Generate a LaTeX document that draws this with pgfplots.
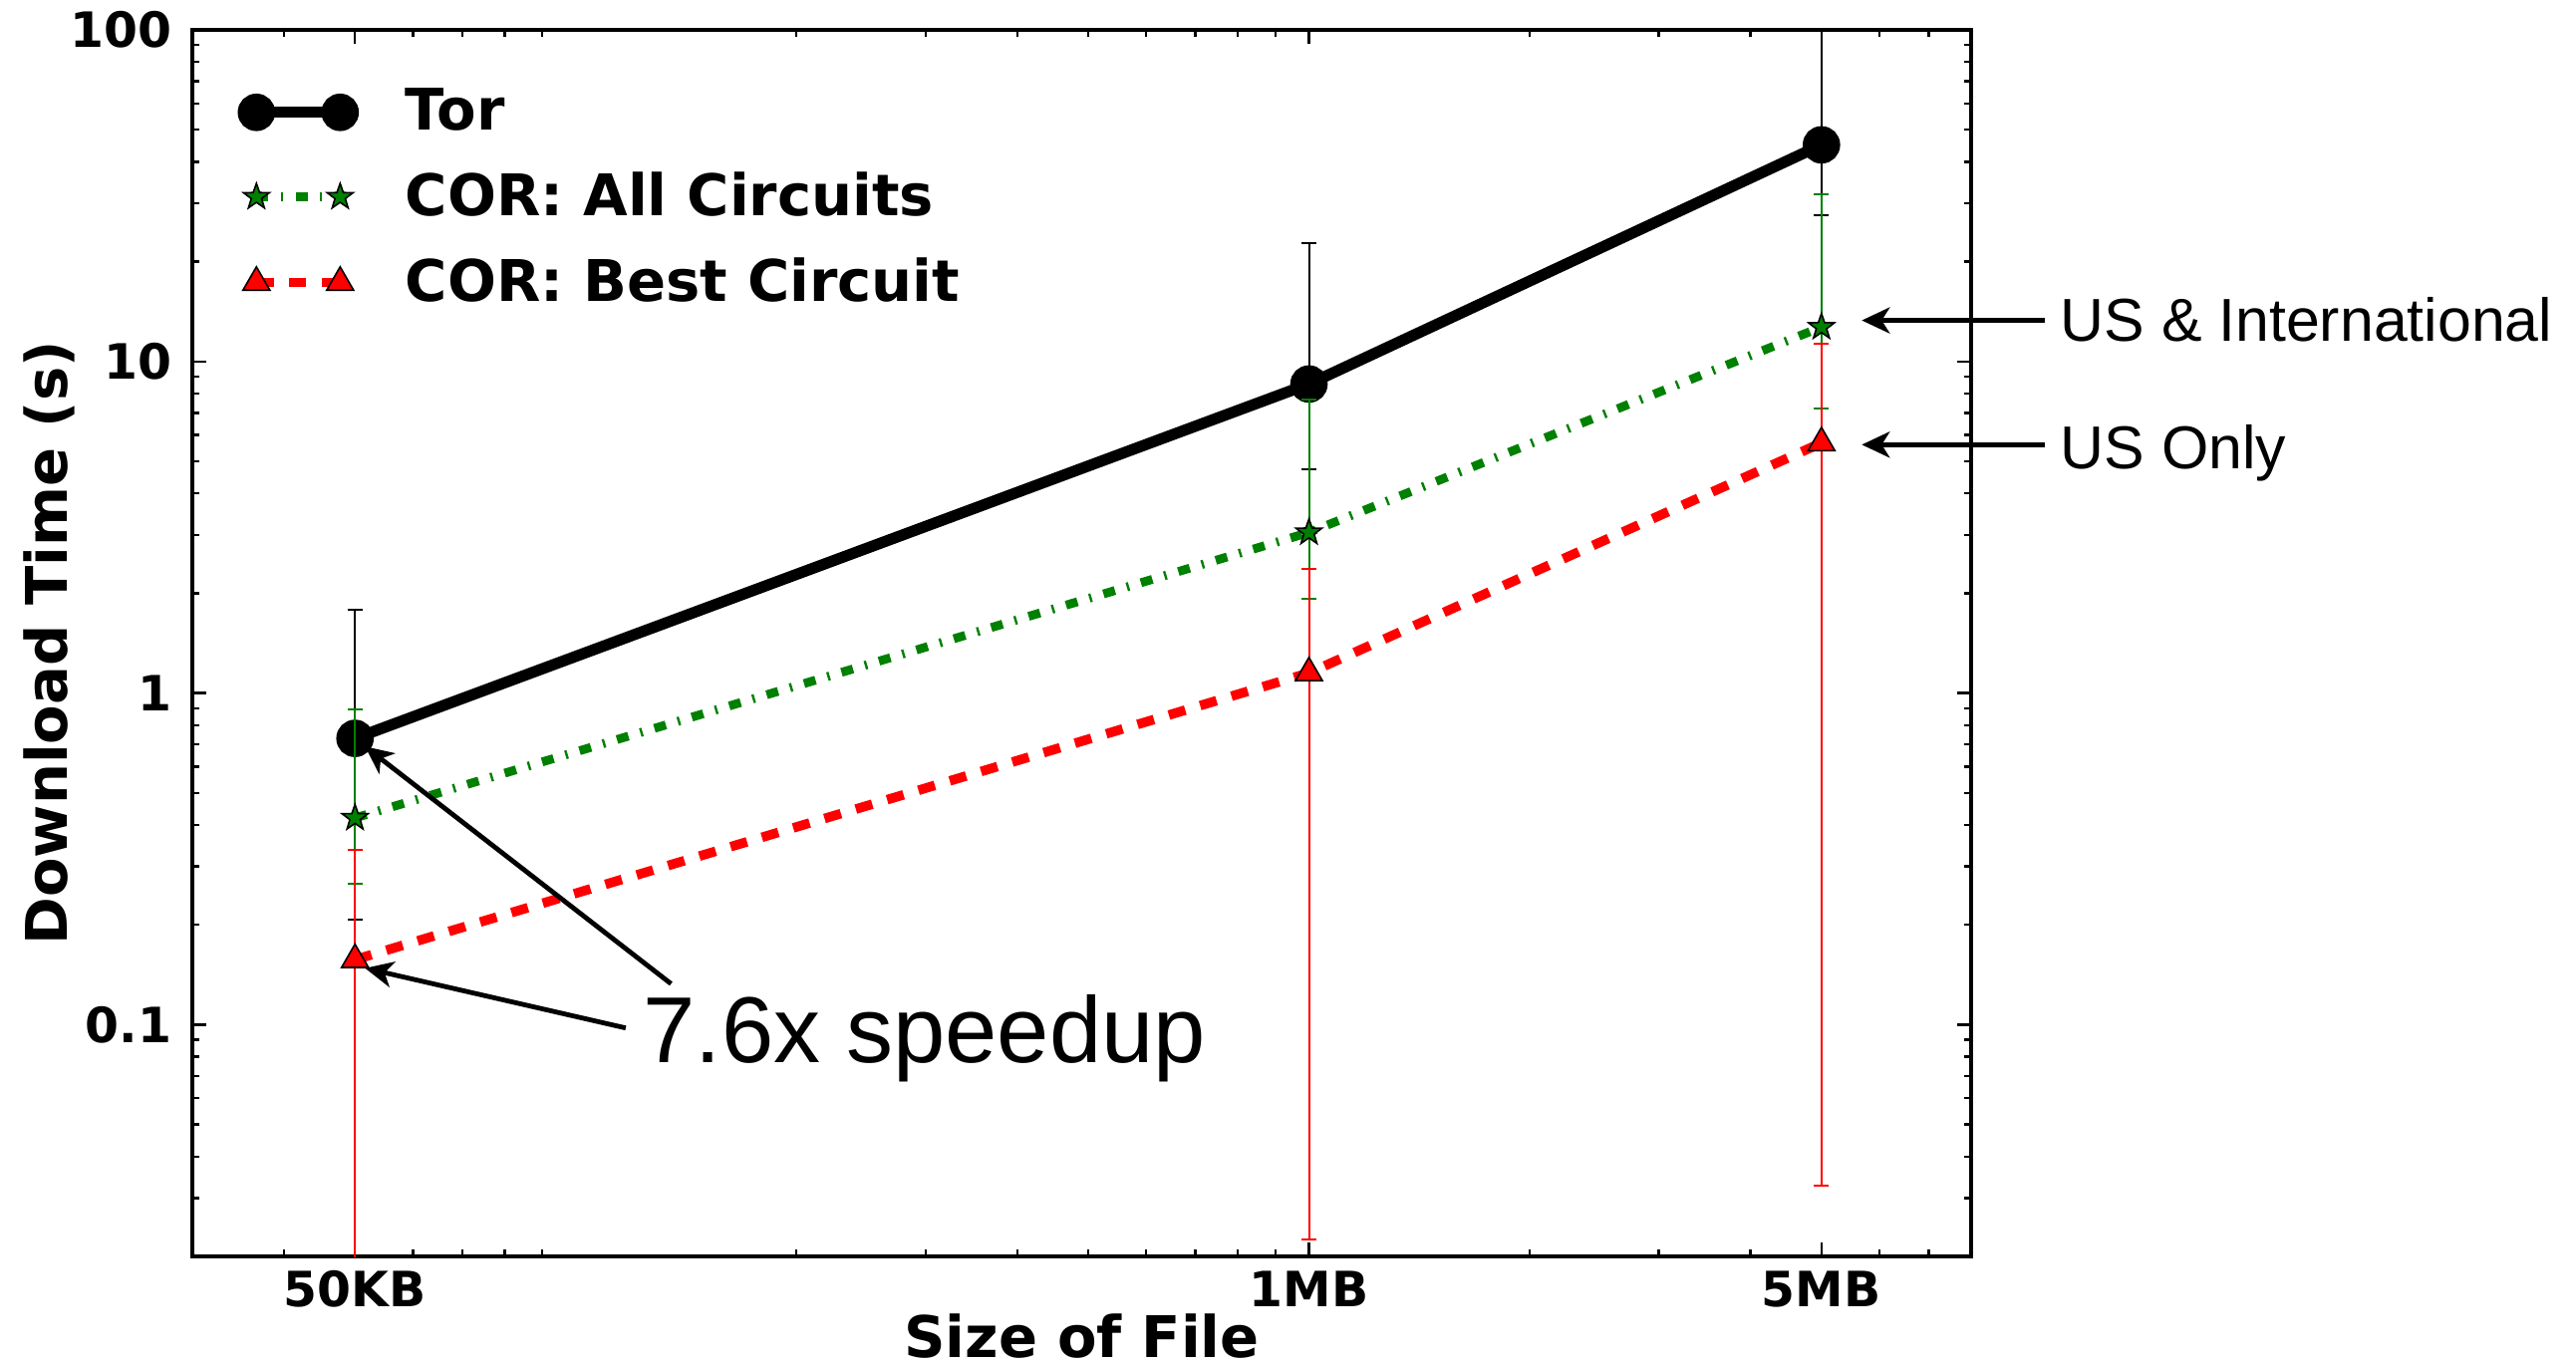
\documentclass[border=0pt]{standalone}
\usepackage{fontspec}
\setmainfont{DejaVu Sans}
\newfontfamily\annfont{Liberation Sans}
\usepackage{pgfplots}
\pgfplotsset{compat=1.18}
\usetikzlibrary{arrows.meta}
\definecolor{mplgreen}{RGB}{0,128,0}
\definecolor{mplred}{RGB}{255,0,0}
\pgfdeclareplotmark{fstar}{%
  \pgfpathmoveto{\pgfpointpolar{90}{\pgfplotmarksize}}%
  \pgfpathlineto{\pgfpointpolar{126}{0.4*\pgfplotmarksize}}%
  \pgfpathlineto{\pgfpointpolar{162}{\pgfplotmarksize}}%
  \pgfpathlineto{\pgfpointpolar{198}{0.4*\pgfplotmarksize}}%
  \pgfpathlineto{\pgfpointpolar{234}{\pgfplotmarksize}}%
  \pgfpathlineto{\pgfpointpolar{270}{0.4*\pgfplotmarksize}}%
  \pgfpathlineto{\pgfpointpolar{306}{\pgfplotmarksize}}%
  \pgfpathlineto{\pgfpointpolar{342}{0.4*\pgfplotmarksize}}%
  \pgfpathlineto{\pgfpointpolar{18}{\pgfplotmarksize}}%
  \pgfpathlineto{\pgfpointpolar{54}{0.4*\pgfplotmarksize}}%
  \pgfpathclose
  \pgfusepathqfillstroke
}
\begin{document}
\begin{tikzpicture}
\useasboundingbox (-48.25pt,-27.5pt) rectangle (598pt,315.25pt);
\begin{axis}[
  at={(0,0)}, anchor=south west,
  width=446.25pt, height=307.75pt, scale only axis,
  xmode=log, ymode=log,
  xmin=30, xmax=8000, ymin=0.02, ymax=100,
  xtick={50,1000,5000}, xticklabels={50KB,1MB,5MB},
  minor xtick={40,60,70,80,90,200,300,400,500,600,700,800,900,2000,3000,4000,6000,7000},
  ytick={0.1,1,10,100}, yticklabels={0.1,1,10,100},
  minor ytick={0.02,0.03,0.04,0.05,0.06,0.07,0.08,0.09,0.2,0.3,0.4,0.5,0.6,0.7,0.8,0.9,2,3,4,5,6,7,8,9,20,30,40,50,60,70,80,90},
  major tick length=3.5pt, minor tick length=1.8pt,
  tick style={black, line width=0.6pt},
  axis line style={line width=0.8pt},
  /pgf/number format/assume math mode=true,
  xticklabel style={font=\bfseries\fontsize{12.2}{14}\selectfont, anchor=center, yshift=-8.3pt},
  yticklabel style={font=\bfseries\fontsize{12.2}{14}\selectfont, anchor=east, inner sep=0pt, xshift=-5pt},
  xlabel={Size of File},
  ylabel={Download Time (s)},
  xlabel style={font=\bfseries\fontsize{14.4}{17}\selectfont, at={(axis description cs:0.5,0)}, anchor=center, inner sep=0pt, yshift=-20pt},
  ylabel style={font=\bfseries\fontsize{14.4}{17}\selectfont, at={(axis description cs:-0.0807,0.5)}, anchor=center, inner sep=0pt},
  clip mode=individual,
  legend style={at={(axis description cs:0,1)}, anchor=north west, xshift=12.5pt, yshift=-12.5pt,
    draw=none, fill=none, font=\bfseries\fontsize{14.4}{17}\selectfont, row sep=5pt, inner sep=0pt},
  legend cell align=left,
  legend image code/.code={\draw[mark repeat=1,mark phase=1,#1] plot coordinates {(0pt,0pt) (21pt,0pt)}; \path (34pt,0pt);},
]
\addplot[black, line width=2.8pt, mark=*, mark size=3.3pt, mark options={solid, fill=black},
  error bars/.cd, y dir=both, y explicit,
  error bar style={line width=0.5pt, solid, black},
  error mark options={rotate=90, mark size=1.9pt, line width=0.5pt, solid, black}]
  coordinates {
  (50,0.73) += (0,1.05) -= (0,0.523)
  (1000,8.55) += (0,14.25) -= (0,3.82)
  (5000,45) += (0,105) -= (0,17.4)
  };
\addlegendentry{Tor}
\addplot[mplgreen, line width=2.2pt, dash pattern=on 3pt off 3.1pt on 0.6pt off 3.1pt,
  mark=fstar, mark size=3.4pt, mark options={solid, fill=mplgreen, draw=black, line width=0.4pt},
  error bars/.cd, y dir=both, y explicit,
  error bar style={line width=0.5pt, solid, mplgreen},
  error mark options={rotate=90, mark size=1.9pt, line width=0.5pt, solid, mplgreen}]
  coordinates {
  (50,0.42) += (0,0.47) -= (0,0.154)
  (1000,3.05) += (0,4.61) -= (0,1.13)
  (5000,12.7) += (0,19.3) -= (0,5.5)
  };
\addlegendentry{COR: All Circuits}
\addplot[mplred, line width=2.4pt, dash pattern=on 4.3pt off 3.9pt,
  mark=triangle*, mark size=3.9pt, mark options={solid, fill=mplred, draw=black, line width=0.4pt},
  error bars/.cd, y dir=both, y explicit,
  error bar style={line width=0.5pt, solid, mplred},
  error mark options={rotate=90, mark size=1.9pt, line width=0.5pt, solid, mplred}]
  coordinates {
  (50,0.157) += (0,0.18) -= (0,0.152)
  (1000,1.15) += (0,1.22) -= (0,1.1275)
  (5000,5.68) += (0,5.62) -= (0,5.6473)
  };
\addlegendentry{COR: Best Circuit}
\draw[-{Stealth[length=7pt,width=6.5pt,inset=2pt]}, line width=1.2pt] (axis cs:134.9,0.1328) -- (axis cs:51.6,0.69);
\draw[-{Stealth[length=7pt,width=6.5pt,inset=2pt]}, line width=1.2pt] (axis cs:117,0.0977) -- (axis cs:51.6,0.148);
\draw[-{Stealth[length=7pt,width=6.5pt,inset=2pt]}, line width=1.2pt] (axis cs:10090,13.3) -- (axis cs:5675,13.3);
\draw[-{Stealth[length=7pt,width=6.5pt,inset=2pt]}, line width=1.2pt] (axis cs:10090,5.61) -- (axis cs:5675,5.61);
\node[anchor=base west, inner sep=0pt, font=\annfont\fontsize{23.5}{28}\selectfont] at (axis cs:123.4,0.0769) {7.6x speedup};
\node[anchor=base west, inner sep=0pt, font=\annfont\fontsize{15.2}{18}\selectfont] at (axis cs:10570,11.5) {US \& International};
\node[anchor=base west, inner sep=0pt, font=\annfont\fontsize{15.2}{18}\selectfont] at (axis cs:10570,4.75) {US Only};
\end{axis}
\end{tikzpicture}
\end{document}
